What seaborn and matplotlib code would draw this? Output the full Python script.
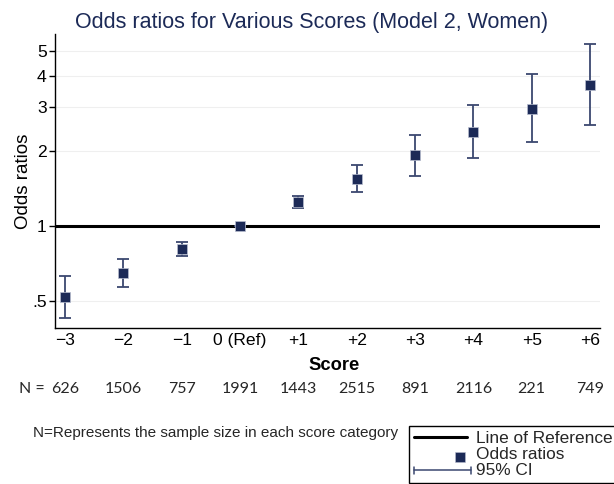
import numpy as np
import pandas as pd
import matplotlib
matplotlib.use("Agg")
import matplotlib.pyplot as plt
import seaborn as sns
from matplotlib.lines import Line2D
from matplotlib.legend_handler import HandlerBase
from matplotlib.transforms import blended_transform_factory
from matplotlib.ticker import FixedLocator, FixedFormatter, NullLocator

# ---------------- data ----------------
score_labels = ["\u22123", "\u22122", "\u22121", "0 (Ref)", "+1", "+2", "+3", "+4", "+5", "+6"]
odds_ratios = [0.521, 0.650, 0.807, 1.000, 1.244, 1.546, 1.924, 2.385, 2.948, 3.677]
ci_lower = [0.428, 0.568, 0.761, 1.000, 1.177, 1.364, 1.590, 1.866, 2.169, 2.530]
ci_upper = [0.629, 0.738, 0.863, 1.000, 1.318, 1.759, 2.313, 3.050, 4.060, 5.340]
sample_sizes = [626, 1506, 757, 1991, 1443, 2515, 891, 2116, 221, 749]
y_ticks = [0.5, 1, 2, 3, 4, 5]
y_tick_labels = [".5", "1", "2", "3", "4", "5"]

df = pd.DataFrame({
    "pos": np.arange(len(score_labels)),
    "score": score_labels,
    "or": odds_ratios,
    "lo": ci_lower,
    "hi": ci_upper,
    "n": sample_sizes,
})

# ---------------- style ----------------
sns.set_theme(style="ticks")
plt.rcParams["font.family"] = ["Liberation Sans", "DejaVu Sans"]
plt.rcParams["axes.unicode_minus"] = True

NAVY = "#1c2a57"
CI_COL = "#3b4870"

W, H = 614, 484
fig = plt.figure(figsize=(W / 100, H / 100), dpi=100)
ax_l, ax_r, ax_t, ax_b = 55, 600, 34, 328.3
ax = fig.add_axes([ax_l / W, 1 - ax_b / H, (ax_r - ax_l) / W, (ax_b - ax_t) / H])

ax.set_yscale("log")

# gridlines
ax.set_axisbelow(True)
ax.yaxis.grid(True, color="#efefef", lw=0.8)
ax.xaxis.grid(False)

# reference line
ax.axhline(1, color="black", lw=2.2, zorder=2)

# CI error bars
yerr = np.vstack([df["or"] - df["lo"], df["hi"] - df["or"]])
ax.errorbar(df["pos"], df["or"], yerr=yerr, fmt="none", ecolor=CI_COL,
            elinewidth=1.3, capsize=4.5, capthick=1.3, zorder=3)

# markers
sns.scatterplot(data=df, x="pos", y="or", marker="s", s=46, color=NAVY,
                edgecolor="#b9bfd0", linewidth=0.5, zorder=4, ax=ax, legend=False)

# axes limits and ticks
ax.set_xlim(-0.171, 9.171)
ax.set_ylim(0.3895, 5.87)
ax.yaxis.set_major_locator(FixedLocator(y_ticks))
ax.yaxis.set_major_formatter(FixedFormatter(y_tick_labels))
ax.yaxis.set_minor_locator(NullLocator())
ax.set_xticks(df["pos"])
ax.set_xticklabels(score_labels)
ax.tick_params(axis="x", length=0, pad=3.5, labelsize=12.6, colors="black")
ax.tick_params(axis="y", length=4, width=1, pad=2, labelsize=12.6, colors="black")

for side in ["top", "right"]:
    ax.spines[side].set_visible(False)
for side in ["left", "bottom"]:
    ax.spines[side].set_color("black")
    ax.spines[side].set_linewidth(1.0)

ax.set_xlabel("Score", fontsize=13.2, fontweight="bold", color="black")
ax.xaxis.set_label_coords((334.5 - ax_l) / (ax_r - ax_l), -0.099)
ax.set_ylabel("Odds ratios", fontsize=13.5, color="black")
ax.yaxis.set_label_coords((32 - ax_l) / (ax_r - ax_l), 0.5)

# title
fig.text(312 / W, 1 - 22.7 / H, "Odds ratios for Various Scores (Model 2, Women)",
         ha="center", va="center", fontsize=15.5, color=NAVY)

# N row
trans = blended_transform_factory(ax.transData, fig.transFigure)
fig.text(18.8 / W, 1 - 389.3 / H, "N =", ha="left", va="center", fontsize=11.5,
         family=["Lato", "DejaVu Sans"])
for p, n in zip(df["pos"], df["n"]):
    ax.text(p, 1 - 389.3 / H, str(n), transform=trans, ha="center", va="center",
            fontsize=11.5, family=["Lato", "DejaVu Sans"], clip_on=False)

# note
fig.text(33.3 / W, 1 - 432.7 / H, "N=Represents the sample size in each score category",
         ha="left", va="center", fontsize=11)


# legend handlers
class MarkerRightHandler(HandlerBase):
    def create_artists(self, legend, orig_handle, xdescent, ydescent, width, height,
                       fontsize, trans):
        m = Line2D([width * 0.87 - xdescent], [height * 0.5 - ydescent - 2.5],
                   marker="s", markersize=6.6, color=NAVY, linestyle="none",
                   markeredgecolor="#b9bfd0", markeredgewidth=0.4, transform=trans)
        return [m]


class CIHandler(HandlerBase):
    def create_artists(self, legend, orig_handle, xdescent, ydescent, width, height,
                       fontsize, trans):
        y = height * 0.5 - ydescent - 1
        x0, x1 = -xdescent, width - xdescent + 3
        line = Line2D([x0, x1], [y, y], color=CI_COL, lw=1.1, transform=trans)
        c0 = Line2D([x0, x0], [y - 2.5, y + 2.5], color=CI_COL, lw=1.1, transform=trans)
        c1 = Line2D([x1, x1], [y - 2.5, y + 2.5], color=CI_COL, lw=1.1, transform=trans)
        return [line, c0, c1]


ref_handle = Line2D([], [], color="black", lw=2.2)
or_handle = Line2D([], [], marker="s", color=NAVY, linestyle="none")
ci_handle = Line2D([], [], color=CI_COL)

leg = fig.legend([ref_handle, or_handle, ci_handle],
                 ["Line of Reference", "Odds ratios", "95% CI"],
                 handler_map={or_handle: MarkerRightHandler(), ci_handle: CIHandler()},
                 loc="upper left", bbox_to_anchor=(409 / W, 1 - 426 / H),
                 bbox_transform=fig.transFigure, frameon=True, fancybox=False,
                 framealpha=1, edgecolor="black", fontsize=12.4,
                 handlelength=3.08, handletextpad=0.52, borderpad=0.3,
                 labelspacing=0.05, borderaxespad=0)
leg.get_frame().set_linewidth(1.0)

fig.savefig("out.png", dpi=100)
